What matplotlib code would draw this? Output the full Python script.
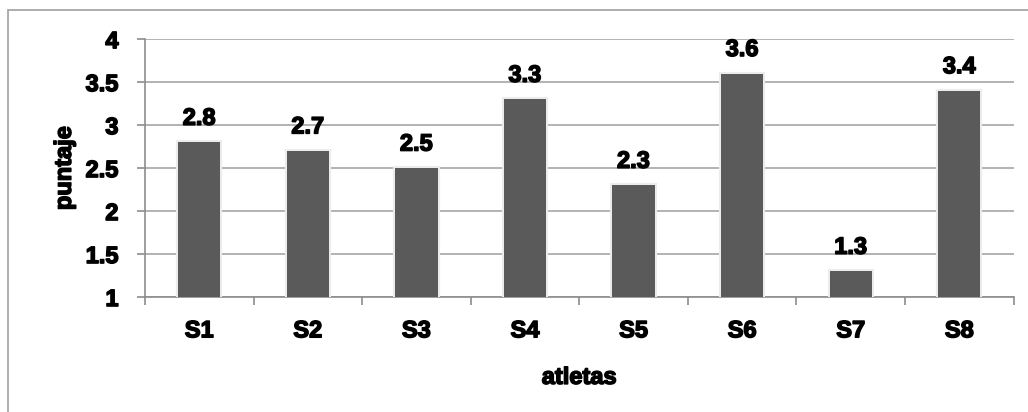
import matplotlib.pyplot as plt
import matplotlib.patheffects as pe
from matplotlib.patches import Rectangle

atletas = ['S1', 'S2', 'S3', 'S4', 'S5', 'S6', 'S7', 'S8']
puntaje = [2.8, 2.7, 2.5, 3.3, 2.3, 3.6, 1.3, 3.4]
y_ticks = [1, 1.5, 2, 2.5, 3, 3.5, 4]
y_tick_labels = ['1', '1.5', '2', '2.5', '3', '3.5', '4']

plt.rcParams['font.family'] = ['Liberation Sans', 'DejaVu Sans']
plt.rcParams['font.weight'] = 'bold'

# heavy text, close to a black-weight face
heavy = [pe.withStroke(linewidth=1.1, foreground='black')]
fs = 17

fig = plt.figure(figsize=(10.28, 4.12), dpi=100)
ax = fig.add_axes([0.141, 0.279, 0.845, 0.626])

x = list(range(len(atletas)))
bars = ax.bar(x, [p - 1 for p in puntaje], bottom=1, width=0.39,
              color='#5a5a5a', zorder=3)
for b in bars:
    b.set_path_effects([pe.withStroke(linewidth=3, foreground='#ececec'), pe.Normal()])

for xi, p in zip(x, puntaje):
    ax.annotate(f'{p}', (xi, p), xytext=(0, 9), textcoords='offset points',
                ha='center', va='bottom', fontsize=fs, fontweight='bold',
                path_effects=heavy)

ax.set_xlim(-0.5, len(atletas) - 0.5)
ax.set_ylim(1, 4)
ax.set_yticks(y_ticks)
ax.set_yticklabels(y_tick_labels)
ax.set_xticks(x)
ax.set_xticklabels(atletas)
ax.set_xticks([i - 0.5 for i in range(len(atletas) + 1)], minor=True)

ax.grid(axis='y', color='#a6a6a6', linewidth=1.2, zorder=0)
ax.tick_params(axis='x', which='major', length=0, pad=16, labelsize=fs)
ax.tick_params(axis='x', which='minor', length=6, direction='out', color='#8c8c8c', width=1.2)
ax.tick_params(axis='y', length=6, direction='out', color='#8c8c8c', width=1.2, pad=13, labelsize=fs)
for lbl in ax.get_xticklabels() + ax.get_yticklabels():
    lbl.set_path_effects(heavy)

for s in ['top', 'right']:
    ax.spines[s].set_visible(False)
for s in ['left', 'bottom']:
    ax.spines[s].set_color('#8c8c8c')
    ax.spines[s].set_linewidth(1.2)

ax.set_xlabel('atletas', fontsize=fs, fontweight='bold', labelpad=17, path_effects=heavy)
ax.set_ylabel('puntaje', fontsize=fs, fontweight='bold', labelpad=7, path_effects=heavy)

# chart frame
fig.add_artist(Rectangle((8 / 1028, -0.1), 1.2, 0.1 + 1 - 10 / 412,
                         transform=fig.transFigure, fill=False,
                         edgecolor='#a0a0a0', linewidth=1.2))

fig.savefig('out.png', dpi=100)
